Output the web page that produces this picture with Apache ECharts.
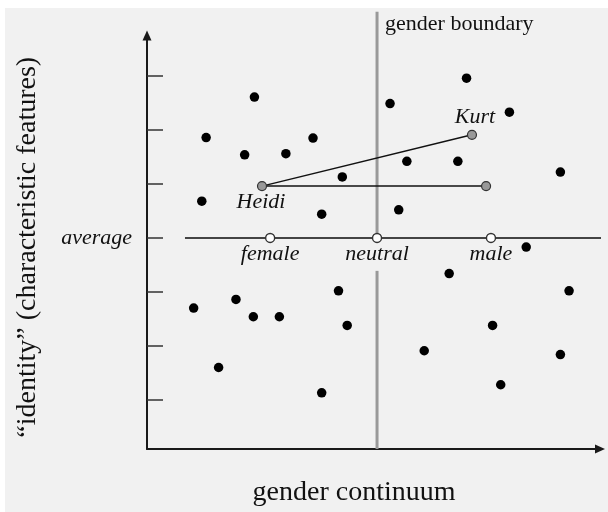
<!DOCTYPE html>
<html>
<head>
<meta charset="utf-8">
<script src="https://cdn.jsdelivr.net/npm/echarts@6/dist/echarts.min.js"></script>
<style>
html,body{margin:0;padding:0;background:#ffffff;}
#chart{width:608px;height:512px;}
</style>
</head>
<body>
<div id="chart"></div>
<script>
// ---- data (units: y = 1 per tick, 0 = average; x = same unit, 0 = neutral) ----
const xTitle = 'gender continuum';
const yTitle = '\u201Cidentity\u201D (characteristic features)';
const xRange = [-4.24, 4.11];
const yRange = [-3.91, 3.75];
const yTickValues = [-3, -2, -1, 0, 1, 2, 3];
const yLabelValues = [0];
const yLabelText = 'average';

const people = [
  [-2.26, 2.61], [-3.15, 1.86], [-2.44, 1.54], [-1.68, 1.56], [-1.18, 1.85],
  [-0.64, 1.13], [-3.23, 0.68], [-1.02, 0.44], [1.65, 2.96], [0.24, 2.49],
  [2.44, 2.33], [0.55, 1.42], [1.49, 1.42], [3.38, 1.22], [0.40, 0.52],
  [2.75, -0.17], [-3.38, -1.30], [-2.60, -1.14], [-2.28, -1.46], [-1.80, -1.46],
  [-0.71, -0.98], [-0.55, -1.62], [-2.92, -2.40], [-1.02, -2.87], [1.33, -0.66],
  [3.54, -0.98], [2.13, -1.62], [0.87, -2.09], [3.38, -2.16], [2.28, -2.72]
];

const referenceNames = ['female', 'neutral', 'male'];
const referenceX = [-1.97, 0, 2.10];
const averageLine = [[-3.54, 0], [4.5, 0]];

const boundaryUpper = [[0, 4.19], [0, 0]];
const boundaryLower = [[0, -0.61], [0, -3.91]];
const boundaryLabel = 'gender boundary';

const heidi = [-2.12, 0.96];
const kurt = [1.75, 1.91];
const heidiMirror = [2.01, 0.96];

const serif = '"Liberation Serif", "Times New Roman", serif';

const chart = echarts.init(document.getElementById('chart'), null, {renderer: 'canvas'});

const option = {
  animation: false,
  backgroundColor: 'transparent',
  graphic: [{
    type: 'rect', z: -100, silent: true,
    shape: {x: 5, y: 8, width: 603, height: 504},
    style: {fill: '#f1f1f1'}
  }],
  grid: {left: 147, right: 8, top: 35.5, bottom: 61, containLabel: false},
  xAxis: {
    type: 'value', min: xRange[0], max: xRange[1],
    splitLine: {show: false},
    axisTick: {show: false},
    axisLabel: {show: false},
    axisLine: {onZero: false, lineStyle: {color: '#1a1a1a', width: 2},
      symbol: ['none', 'triangle'], symbolSize: [9, 10]},
    name: xTitle, nameLocation: 'middle', nameGap: 30,
    nameTextStyle: {fontFamily: serif, fontSize: 28, color: '#111', padding: [0, 39, 0, 0]}
  },
  yAxis: {
    type: 'value', min: yRange[0], max: yRange[1],
    splitLine: {show: false},
    axisTick: {show: true, inside: true, length: 16, customValues: yTickValues,
      lineStyle: {color: '#333', width: 1.5}},
    axisLabel: {show: true, customValues: yLabelValues, margin: 15,
      formatter: function () { return yLabelText; },
      fontFamily: serif, fontSize: 22, fontStyle: 'italic', color: '#111'},
    axisLine: {onZero: false, lineStyle: {color: '#1a1a1a', width: 2},
      symbol: ['none', 'triangle'], symbolSize: [9, 10]},
    name: yTitle, nameLocation: 'middle', nameGap: 105,
    nameTextStyle: {fontFamily: serif, fontSize: 28, color: '#111', padding: [0, 10, 0, 0]}
  },
  series: [
    {
      type: 'line', name: 'average', data: averageLine, clip: false,
      symbol: 'none', lineStyle: {color: '#444', width: 2}, z: 1, silent: true
    },
    {
      type: 'line', name: 'boundary', data: boundaryUpper, clip: false,
      symbol: 'none', lineStyle: {color: '#999', width: 3}, z: 2, silent: true
    },
    {
      type: 'line', name: 'boundary', data: boundaryLower, clip: false,
      symbol: 'none', lineStyle: {color: '#999', width: 3}, z: 2, silent: true
    },
    {
      type: 'scatter', name: 'boundaryLabel', clip: false,
      data: [boundaryUpper[0]], symbolSize: 0, z: 5,
      itemStyle: {opacity: 1},
      label: {show: true, position: 'right', distance: 8, offset: [0, 12.6],
        formatter: boundaryLabel, fontFamily: serif, fontSize: 22, color: '#111'}
    },
    {
      type: 'line', name: 'Heidi-Kurt', data: [heidi, kurt], symbol: 'none',
      lineStyle: {color: '#111', width: 1.5}, z: 3
    },
    {
      type: 'line', name: 'Heidi-mirror', data: [heidi, heidiMirror], symbol: 'none',
      lineStyle: {color: '#111', width: 1.5}, z: 3
    },
    {
      type: 'scatter', name: 'people', data: people, symbolSize: 9.5,
      itemStyle: {color: '#000', opacity: 1}, z: 4
    },
    {
      type: 'scatter', name: 'named', z: 6,
      symbolSize: 9,
      itemStyle: {color: '#999', borderColor: '#333', borderWidth: 1.2, opacity: 1},
      data: [
        {value: heidi, label: {show: true, formatter: 'Heidi', position: 'bottom', distance: 0.5, offset: [-1, 0]}},
        {value: kurt, label: {show: true, formatter: 'Kurt', position: 'top', distance: 1.5, offset: [3, 0]}},
        {value: heidiMirror}
      ],
      label: {fontFamily: serif, fontSize: 22, fontStyle: 'italic', color: '#111'}
    },
    {
      type: 'scatter', name: 'reference', z: 7,
      symbolSize: 9,
      itemStyle: {color: '#fff', borderColor: '#333', borderWidth: 1.4, opacity: 1},
      data: referenceX.map(function (x, i) { return {value: [x, 0], name: referenceNames[i]}; }),
      label: {show: true, position: 'bottom', distance: 0.5, formatter: '{b}',
        fontFamily: serif, fontSize: 22, fontStyle: 'italic', color: '#111'}
    }
  ]
};
chart.setOption(option);
</script>
</body>
</html>
